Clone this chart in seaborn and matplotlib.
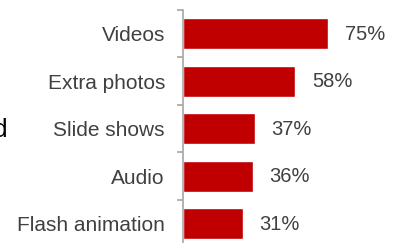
import pandas as pd
import matplotlib.pyplot as plt
import seaborn as sns

# Data
categories = ['Videos', 'Extra photos', 'Slide shows', 'Audio', 'Flash animation']
shares = [75, 58, 37, 36, 31]

df = pd.DataFrame({'Feature': categories, 'Share': shares})

sns.set_style('white')
plt.rcParams['font.family'] = ['Liberation Sans', 'DejaVu Sans']

fig = plt.figure(figsize=(3.96, 2.43), dpi=100)
ax = fig.add_axes([183 / 396, -4.5 / 243, 193.3 / 396, 237.5 / 243])

sns.barplot(data=df, x='Share', y='Feature', color='#c00000',
            width=0.66, saturation=1, ax=ax)

ax.set_xlim(0, 100)
ax.set_ylim(4.5, -0.5)
ax.set_xlabel('')
ax.set_ylabel('')
ax.set_xticks([])

# value labels
for i, v in enumerate(shares):
    ax.annotate(f'{v}%', xy=(v, i), xytext=(12, -0.5), textcoords='offset points',
                ha='left', va='center', fontsize=14.5, color='#404040')

# category labels with tick marks on the boundaries
ax.set_yticks(range(len(categories)))
ax.set_yticklabels(categories, fontsize=15, color='#404040')
ax.tick_params(axis='y', which='major', length=0, pad=13)
ax.set_yticks([x - 0.5 for x in range(len(categories) + 1)], minor=True)
ax.tick_params(axis='y', which='minor', length=4.5, width=1.2, color='#a6a6a6', left=True)

for s in ['top', 'right', 'bottom']:
    ax.spines[s].set_visible(False)
ax.spines['left'].set_color('#a6a6a6')
ax.spines['left'].set_linewidth(1.2)

# cut-off letter from neighbouring slide text
fig.text(8 / 396, 1 - 137 / 243, 'd', ha='right', va='baseline', fontsize=19, color='black')

fig.savefig('out.png', dpi=100)
